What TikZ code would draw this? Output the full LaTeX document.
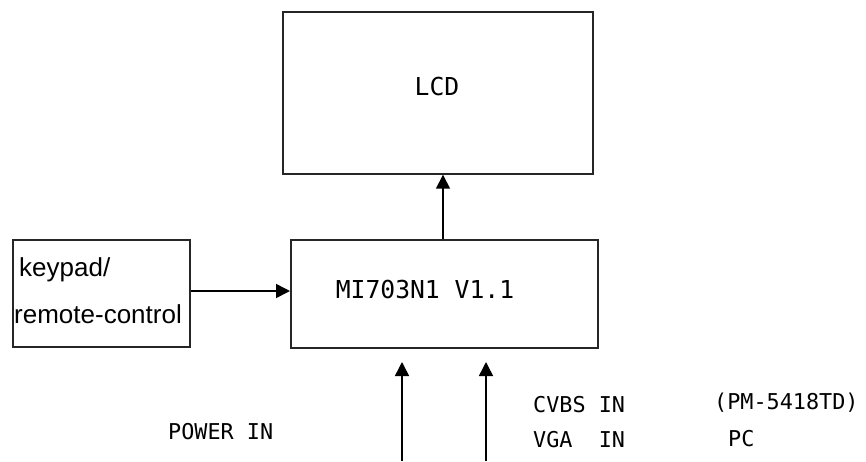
\documentclass[tikz,border=0pt]{standalone}
\usepackage{fontspec}
\setmainfont{Liberation Sans}
\newfontfamily\monofam{DejaVu Sans Mono}
\usetikzlibrary{arrows.meta}
\begin{document}
\begin{tikzpicture}[x=1pt,y=-1pt,
  blk/.style={draw=black!85,line width=1.7pt,inner sep=0pt,anchor=north west},
  conn/.style={line width=1.5pt,-{Triangle[length=14pt,width=14pt]}},
  mono/.style={inner sep=0pt,font=\monofam\fontsize{21.8}{24}\selectfont},
  big/.style={inner sep=0pt,font=\monofam\fontsize{24.7}{28}\selectfont},
  sans/.style={inner sep=0pt,anchor=base west,font=\fontsize{26}{30}\selectfont}]
\useasboundingbox (0,0) rectangle (866,461);
% boxes
\node[blk,minimum width=310pt,minimum height=162pt] (lcd) at (282,11) {};
\node[blk,minimum width=307pt,minimum height=108pt] (mi) at (290,239) {};
\node[blk,minimum width=177pt,minimum height=107pt] (kp) at (12,239) {};
% box texts
\node[big,anchor=base] (lcdt) at (437,95) {LCD};
\node[big,anchor=base] (mit) at (425,298) {MI703N1 V1.1};
\node[sans] (kp1) at (19,276) {keypad/};
\node[sans] (kp2) at (14,323) {remote-control};
% connectors
\draw[conn] (mi.north -| 443,0) -- (lcd.south -| 443,0);
\draw[conn] (kp.east |- 0,291) -- (mi.west |- 0,291);
\coordinate (p1s) at (402,461);
\coordinate (p1e) at (402,362);
\coordinate (p2s) at (486,461);
\coordinate (p2e) at (486,362);
\draw[conn] (p1s) -- (p1e);
\draw[conn] (p2s) -- (p2e);
% labels
\node[mono,anchor=base west] (pw) at (168,439) {POWER IN};
\node[mono,anchor=base west] (cv) at (533,412) {CVBS IN};
\node[mono,anchor=base west] (vg) at (533,447) {VGA\ \ IN};
\node[mono,anchor=base west] (pm) at (714,409) {(PM-5418TD)};
\node[mono,anchor=base west] (pc) at (728,446) {PC};
\end{tikzpicture}
\end{document}
